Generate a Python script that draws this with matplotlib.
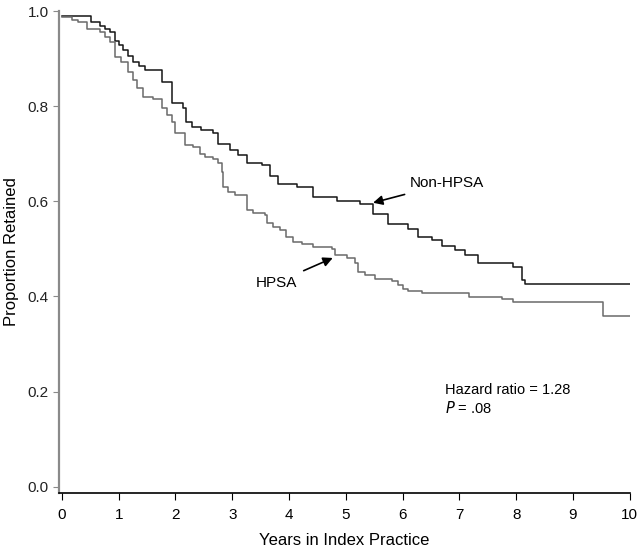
import numpy as np
import matplotlib
matplotlib.use("Agg")
import matplotlib.pyplot as plt

plt.rcParams['font.family'] = ['Liberation Sans', 'DejaVu Sans']

# Kaplan-Meier curves (years, proportion retained)
non_t = [0, 0.51, 0.67, 0.76, 0.85, 0.93, 1.00, 1.08, 1.16, 1.25, 1.35, 1.46, 1.76, 1.94,
         2.13, 2.18, 2.29, 2.45, 2.66, 2.75, 2.96, 3.10, 3.26, 3.52, 3.66, 3.80, 4.14,
         4.42, 4.84, 5.25, 5.48, 5.74, 6.09, 6.27, 6.51, 6.69, 6.92, 7.10, 7.32, 7.94,
         8.10, 8.15, 10.0]
non_s = [0.99, 0.977, 0.969, 0.962, 0.955, 0.937, 0.928, 0.918, 0.905, 0.893, 0.884, 0.876,
         0.85, 0.806, 0.796, 0.767, 0.756, 0.750, 0.744, 0.72, 0.708, 0.698, 0.68, 0.676,
         0.653, 0.636, 0.63, 0.61, 0.60, 0.595, 0.573, 0.552, 0.542, 0.525, 0.519, 0.506,
         0.498, 0.487, 0.47, 0.462, 0.435, 0.426, 0.426]

hpsa_t = [0, 0.18, 0.28, 0.44, 0.67, 0.76, 0.85, 0.93, 1.05, 1.16, 1.25, 1.32, 1.43, 1.61,
          1.76, 1.85, 1.94, 1.99, 2.17, 2.31, 2.43, 2.52, 2.66, 2.75, 2.82, 2.84, 2.92,
          3.05, 3.26, 3.36, 3.57, 3.61, 3.71, 3.84, 3.94, 4.07, 4.22, 4.42, 4.75, 4.81,
          5.02, 5.16, 5.21, 5.33, 5.51, 5.81, 5.92, 6.00, 6.09, 6.34, 7.17, 7.75, 7.94,
          9.52, 10.0]
hpsa_s = [0.987, 0.981, 0.977, 0.962, 0.956, 0.945, 0.935, 0.904, 0.893, 0.872, 0.855,
          0.838, 0.82, 0.815, 0.796, 0.782, 0.767, 0.744, 0.718, 0.714, 0.70, 0.693, 0.689,
          0.68, 0.662, 0.63, 0.62, 0.613, 0.582, 0.575, 0.571, 0.554, 0.546, 0.54, 0.525,
          0.515, 0.51, 0.504, 0.50, 0.487, 0.48, 0.47, 0.452, 0.445, 0.437, 0.433, 0.424,
          0.416, 0.412, 0.407, 0.399, 0.395, 0.389, 0.359, 0.359]

x_ticks = [0, 1, 2, 3, 4, 5, 6, 7, 8, 9, 10]
y_ticks = [0.0, 0.2, 0.4, 0.6, 0.8, 1.0]

fig = plt.figure(figsize=(6.4, 5.51), dpi=100)
ax = fig.add_axes([0.0922, 0.1053, 0.8918, 0.8747])

ax.step(non_t, non_s, where='post', color='#151515', lw=1.1)
ax.step(hpsa_t, hpsa_s, where='post', color='#6a6a6a', lw=1.1)

ax.set_xlim(-0.05, 10.0)
ax.set_ylim(-0.013, 1.0)
ax.set_xticks(x_ticks)
ax.set_xticklabels([str(v) for v in x_ticks])
ax.set_yticks(y_ticks)
ax.set_yticklabels(['%.1f' % v for v in y_ticks])

for s in ['top', 'right']:
    ax.spines[s].set_visible(False)
ax.spines['left'].set_color('#8a8a8a')
ax.spines['left'].set_linewidth(1.6)
ax.spines['bottom'].set_color('black')
ax.spines['bottom'].set_linewidth(1.2)
ax.tick_params(axis='y', colors='#8a8a8a', labelcolor='#222222', length=4, labelsize=11)
ax.tick_params(axis='x', colors='black', length=5, labelsize=11, pad=6)

ax.set_xlabel('Years in Index Practice', fontsize=12, labelpad=8)
ax.set_ylabel('Proportion Retained', fontsize=12, labelpad=6)

# annotations
ax.annotate('Non-HPSA', xy=(5.48, 0.597), xytext=(6.13, 0.638), fontsize=11,
            va='center', ha='left',
            arrowprops=dict(arrowstyle='-|>', color='black', lw=1.2, mutation_scale=14,
                            shrinkA=4, shrinkB=0))
ax.annotate('HPSA', xy=(4.77, 0.481), xytext=(4.14, 0.429), fontsize=11,
            va='center', ha='right',
            arrowprops=dict(arrowstyle='-|>', color='black', lw=1.2, mutation_scale=14,
                            shrinkA=4, shrinkB=0))

ax.text(6.74, 0.204, 'Hazard ratio = 1.28', fontsize=10.5, va='center')
ax.text(6.74, 0.166, '$P$ = .08', fontsize=10.5, va='center')

fig.savefig('out.png', dpi=100)
